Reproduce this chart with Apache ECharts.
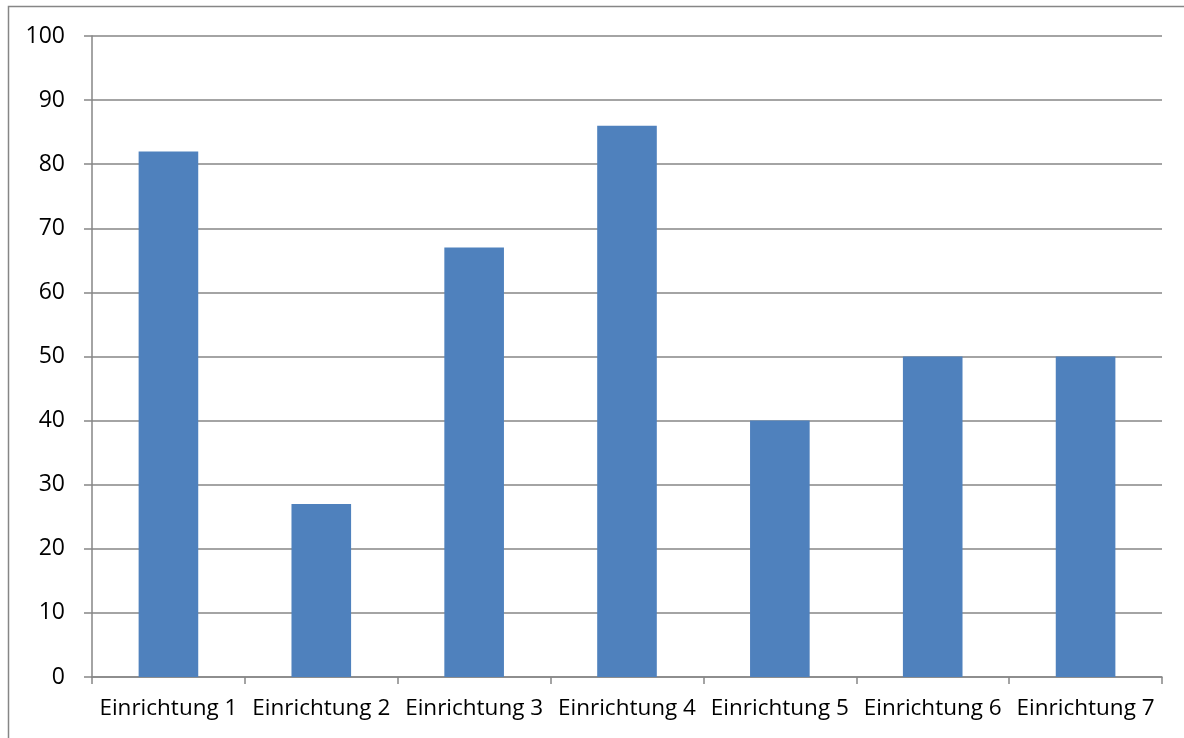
<!DOCTYPE html>
<html>
<head>
<meta charset="utf-8">
<script src="https://cdn.jsdelivr.net/npm/echarts@6/dist/echarts.min.js"></script>
<style>
  html, body { margin: 0; padding: 0; background: #ffffff; }
  #chart { width: 1184px; height: 738px; }
</style>
</head>
<body>
<div id="chart"></div>
<script>
// Categories and values
const categories = ['Einrichtung 1', 'Einrichtung 2', 'Einrichtung 3', 'Einrichtung 4', 'Einrichtung 5', 'Einrichtung 6', 'Einrichtung 7'];
const values = [82, 27, 67, 86, 40, 50, 50];
const yTicks = [0, 10, 20, 30, 40, 50, 60, 70, 80, 90, 100];

const chart = echarts.init(document.getElementById('chart'), null, { renderer: 'canvas' });
const axisGray = '#868686';
const fontFamily = '"Open Sans", "Noto Sans", sans-serif';

chart.setOption({
  animation: false,
  backgroundColor: '#ffffff',
  graphic: [{
    type: 'rect',
    shape: { x: 8.5, y: 6.5, width: 1190, height: 740 },
    style: { fill: 'none', stroke: axisGray, lineWidth: 1.5 },
    silent: true
  }],
  grid: { left: 92, right: 22, top: 36, bottom: 61 },
  xAxis: {
    type: 'category',
    data: categories,
    axisLine: { lineStyle: { color: axisGray, width: 1.5 } },
    axisTick: { show: true, alignWithLabel: false, length: 7, lineStyle: { color: axisGray, width: 1.5 } },
    axisLabel: { color: '#000', fontSize: 22.5, fontFamily: fontFamily, margin: 20, interval: 0 },
    splitLine: { show: false }
  },
  yAxis: {
    type: 'value',
    min: yTicks[0],
    max: yTicks[yTicks.length - 1],
    interval: 10,
    axisLine: { show: true, lineStyle: { color: axisGray, width: 1.5 } },
    axisTick: { show: true, length: 8, lineStyle: { color: axisGray, width: 1.5 } },
    axisLabel: { color: '#000', fontSize: 23, fontFamily: fontFamily, margin: 27 },
    splitLine: { show: true, lineStyle: { color: axisGray, width: 1.5 } }
  },
  series: [{
    type: 'bar',
    data: values,
    barWidth: '39%',
    itemStyle: { color: '#4F81BD' }
  }]
});
</script>
</body>
</html>
